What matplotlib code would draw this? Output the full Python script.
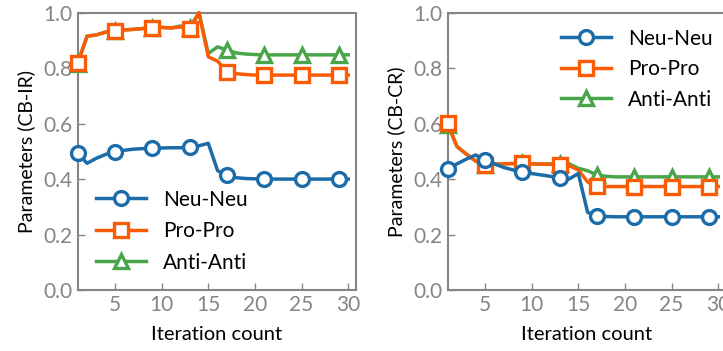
import matplotlib
matplotlib.use("Agg")
import matplotlib.pyplot as plt
import numpy as np

plt.rcParams['font.family'] = ['Lato', 'DejaVu Sans']

iters = list(range(1, 31))
marker_iters = [1, 5, 9, 13, 17, 21, 25, 29]

ir_neu = [0.493, 0.457, 0.475, 0.489, 0.499, 0.504, 0.508, 0.510, 0.511, 0.512, 0.513, 0.513, 0.514,
          0.520, 0.529, 0.430, 0.415, 0.405, 0.402, 0.401, 0.400, 0.400, 0.400, 0.400, 0.400,
          0.400, 0.400, 0.400, 0.400, 0.400]
ir_pro = [0.820, 0.915, 0.920, 0.930, 0.935, 0.938, 0.940, 0.943, 0.945, 0.947, 0.945, 0.948, 0.943,
          1.000, 0.841, 0.825, 0.787, 0.780, 0.777, 0.775, 0.775, 0.775, 0.775, 0.775, 0.775,
          0.775, 0.775, 0.775, 0.775, 0.775]
ir_anti = [0.815, 0.915, 0.920, 0.930, 0.935, 0.938, 0.940, 0.943, 0.945, 0.947, 0.945, 0.952, 0.946,
           1.000, 0.853, 0.877, 0.865, 0.855, 0.851, 0.849, 0.848, 0.848, 0.848, 0.848, 0.848,
           0.848, 0.848, 0.848, 0.848, 0.848]

cr_neu = [0.435, 0.455, 0.472, 0.487, 0.469, 0.455, 0.442, 0.433, 0.427, 0.420, 0.415, 0.410, 0.403,
          0.400, 0.420, 0.280, 0.267, 0.265, 0.264, 0.264, 0.264, 0.264, 0.264, 0.264, 0.264,
          0.264, 0.264, 0.264, 0.264, 0.264]
cr_pro = [0.601, 0.517, 0.490, 0.465, 0.451, 0.453, 0.455, 0.456, 0.457, 0.455, 0.454, 0.453, 0.451,
          0.448, 0.433, 0.390, 0.375, 0.373, 0.373, 0.373, 0.373, 0.373, 0.373, 0.373, 0.373,
          0.373, 0.373, 0.373, 0.373, 0.373]
cr_anti = [0.596, 0.517, 0.490, 0.465, 0.451, 0.453, 0.455, 0.456, 0.457, 0.455, 0.454, 0.455, 0.454,
           0.455, 0.439, 0.430, 0.415, 0.410, 0.408, 0.408, 0.408, 0.408, 0.408, 0.408, 0.408,
           0.408, 0.408, 0.408, 0.408, 0.408]

labels = ['Neu-Neu', 'Pro-Pro', 'Anti-Anti']
colors = ['#1b6ca8', '#fa5c05', '#4aa54a']
markers = ['o', 's', '^']
ylabels = ['Parameters (CB-IR)', 'Parameters (CB-CR)']

fig = plt.figure(figsize=(7.23, 3.51), dpi=100)
W, H = 723.0, 351.0
ax1 = fig.add_axes([77.7 / W, 61 / H, 278 / W, 277.3 / H])
ax2 = fig.add_axes([447.7 / W, 61 / H, 278 / W, 277.3 / H])

gray = '#858585'
marker_idx = [iters.index(m) for m in marker_iters]
zorders = {0: 4, 1: 3.5, 2: 3}

for ax, data, ylab, loc in [(ax1, [ir_neu, ir_pro, ir_anti], ylabels[0], 'lower left'),
                            (ax2, [cr_neu, cr_pro, cr_anti], ylabels[1], 'upper right')]:
    for k in [2, 1, 0]:
        ax.plot(iters, data[k], color=colors[k], lw=2.5, marker=markers[k],
                markevery=marker_idx, markersize=10 if k != 1 else 9.5,
                markerfacecolor='white', markeredgecolor=colors[k], markeredgewidth=2.4,
                label=labels[k], zorder=zorders[k], clip_on=False)
    ax.set_xlim(1, 30.8)
    ax.set_ylim(0, 1.0)
    ax.set_xticks([5, 10, 15, 20, 25, 30])
    ax.set_yticks([0.0, 0.2, 0.4, 0.6, 0.8, 1.0])
    ax.set_yticklabels(['0.0', '0.2', '0.4', '0.6', '0.8', '1.0'])
    ax.tick_params(direction='in', colors=gray, labelcolor=gray, labelsize=15, length=5, width=1)
    for s in ax.spines.values():
        s.set_color(gray)
        s.set_linewidth(1.5)
        s.set_zorder(1)
    ax.set_xlabel('Iteration count', fontsize=14.5, labelpad=8)
    ax.set_ylabel(ylab, fontsize=14, labelpad=6)
    h, l = ax.get_legend_handles_labels()
    order = [l.index(x) for x in labels]
    if loc == 'lower left':
        ax.legend([h[i] for i in order], labels, loc='lower left', bbox_to_anchor=(0.0, -0.005),
                  frameon=False, fontsize=15, handlelength=2.4, labelspacing=0.55, handletextpad=0.8)
    else:
        ax.legend([h[i] for i in order], labels, loc='upper right', bbox_to_anchor=(1.02, 1.01),
                  frameon=False, fontsize=15, handlelength=2.4, labelspacing=0.5, handletextpad=0.8)

fig.savefig('out.png', dpi=100)
